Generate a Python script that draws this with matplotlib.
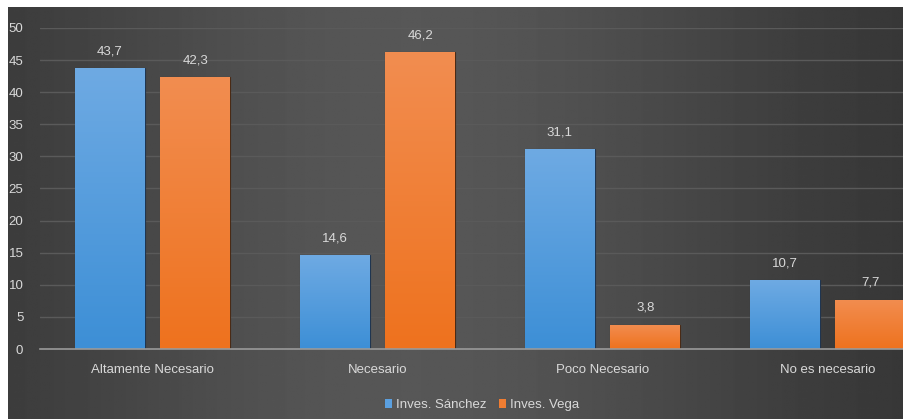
import numpy as np
import matplotlib
matplotlib.use("Agg")
import matplotlib.pyplot as plt
from matplotlib.colors import LinearSegmentedColormap

categories = ["Altamente Necesario", "Necesario", "Poco Necesario", "No es necesario"]
sanchez = [43.7, 14.6, 31.1, 10.7]
vega = [42.3, 46.2, 3.8, 7.7]
series_names = ["Inves. Sánchez", "Inves. Vega"]
yticks = [0, 5, 10, 15, 20, 25, 30, 35, 40, 45, 50]

W, H = 904, 419
plt.rcParams['font.family'] = ['Liberation Sans Narrow', 'Liberation Sans', 'DejaVu Sans']
fig = plt.figure(figsize=(W / 100, H / 100), dpi=100)
fig.patch.set_facecolor('white')

# background panel with horizontal gradient
bg = fig.add_axes([8 / W, 0, (W - 8) / W, (H - 7) / H])
bg.set_axis_off()
xs = np.linspace(0, 1, 400)
prof = 0.19 + 0.15 * np.exp(-((xs - 0.45) / 0.42) ** 2)
img = np.tile(prof, (50, 1))
cmap_bg = LinearSegmentedColormap.from_list('g', ['#000000', '#ffffff'])
bg.imshow(img, aspect='auto', cmap=cmap_bg, vmin=0, vmax=1, extent=[0, 1, 0, 1])
bg.set_xlim(0, 1)
bg.set_ylim(0, 1)

ax = fig.add_axes([40 / W, (H - 349) / H, 900 / W, (349 - 28) / H])
ax.patch.set_alpha(0)
x = np.arange(len(categories))
bw = 0.31
off = 0.19
b1 = ax.bar(x - off, sanchez, bw, color='#5ba0e0', edgecolor='#1f3550', linewidth=0.8, zorder=3, label=series_names[0])
b2 = ax.bar(x + off, vega, bw, color='#f07d32', edgecolor='#4a2a15', linewidth=0.8, zorder=3, label=series_names[1])

def grad(bars, top, bottom):
    cm = LinearSegmentedColormap.from_list('b', [bottom, top])
    g = np.linspace(0, 1, 100).reshape(-1, 1)
    for b in bars:
        x0, y0 = b.get_x(), b.get_y()
        w, h = b.get_width(), b.get_height()
        im = ax.imshow(g, aspect='auto', cmap=cm, origin='lower',
                       extent=[x0, x0 + w, y0, y0 + h], zorder=4)
        im.set_clip_path(b)

grad(b1, '#6eaae3', '#3d8fd6')
grad(b2, '#f28d50', '#ee721e')

fs = 9.5
for bars, vals in ((b1, sanchez), (b2, vega)):
    for b, v in zip(bars, vals):
        ax.text(b.get_x() + b.get_width() / 2, v + 1.7, f"{v:.1f}".replace('.', ','),
                ha='center', va='bottom', color='#d9d9d9', fontsize=fs, zorder=5)

ax.set_xlim(-0.5, 3.5)
ax.set_ylim(0, 50)
ax.set_yticks(yticks)
ax.set_yticklabels([str(t) for t in yticks], color='#d9d9d9', fontsize=fs)
ax.set_xticks(x)
ax.set_xticklabels(categories, color='#d9d9d9', fontsize=fs)
ax.tick_params(length=0, axis='y', pad=12)
ax.tick_params(length=0, axis='x', pad=11)
ax.grid(axis='y', color='#5a5a5a', linewidth=1, zorder=1)
for s in ('top', 'right', 'left'):
    ax.spines[s].set_visible(False)
ax.spines['bottom'].set_color('#9a9a9a')
ax.spines['bottom'].set_linewidth(1.2)
ax.spines['bottom'].set_zorder(6)

leg = fig.legend(handles=[b1, b2], labels=series_names, loc='center', bbox_to_anchor=(482 / W, (H - 405) / H),
                 ncol=2, frameon=False, fontsize=fs, handlelength=0.5, handleheight=0.7,
                 handletextpad=0.3, columnspacing=1.0, labelcolor='#d9d9d9')
for h in leg.legend_handles:
    h.set_edgecolor('none')

fig.savefig('out.png', dpi=100)
